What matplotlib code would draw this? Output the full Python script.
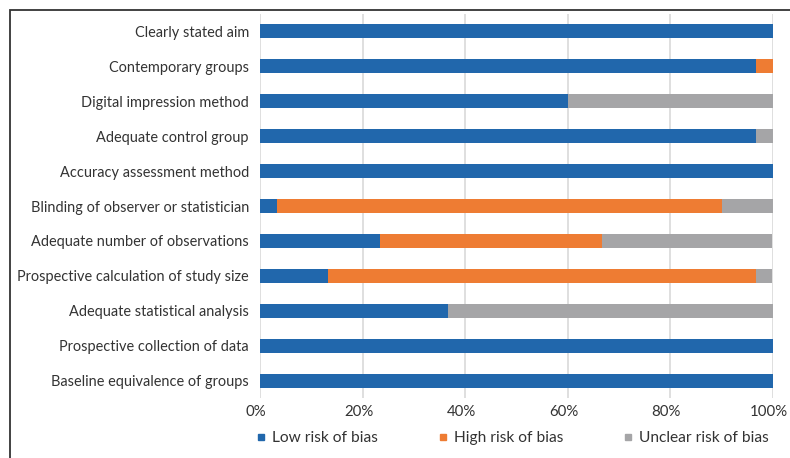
import matplotlib
matplotlib.use("Agg")
import matplotlib.pyplot as plt
import matplotlib.transforms as mtransforms
from matplotlib.lines import Line2D
from matplotlib.patches import Rectangle
import numpy as np

plt.rcParams['font.family'] = ['Lato', 'DejaVu Sans']

categories = [
    "Clearly stated aim",
    "Contemporary groups",
    "Digital impression method",
    "Adequate control group",
    "Accuracy assessment method",
    "Blinding of observer or statistician",
    "Adequate number of observations",
    "Prospective calculation of study size",
    "Adequate statistical analysis",
    "Prospective collection of data",
    "Baseline equivalence of groups",
]
low_risk = [100, 96.7, 60.0, 96.7, 100, 3.3, 23.3, 13.3, 36.7, 100, 100]
high_risk = [0, 3.3, 0, 0, 0, 86.7, 43.3, 83.3, 0, 0, 0]
unclear_risk = [0, 0, 40.0, 3.3, 0, 10.0, 33.3, 3.3, 63.3, 0, 0]
series_names = ["Low risk of bias", "High risk of bias", "Unclear risk of bias"]
tick_values = [0, 20, 40, 60, 80, 100]
tick_labels = ["0%", "20%", "40%", "60%", "80%", "100%"]

colors = ["#2167AC", "#EE7C33", "#A5A5A7"]
text_color = "#333333"

W, H = 790, 458
fig = plt.figure(figsize=(W / 100, H / 100), dpi=100)
ax = fig.add_axes([260 / W, 1 - 398 / H, 513 / W, 384 / H])

y = np.arange(len(categories))
left = np.zeros(len(categories))
for vals, name, col in zip([low_risk, high_risk, unclear_risk], series_names, colors):
    ax.barh(y, vals, left=left, height=0.4, color=col, label=name, zorder=3)
    left = left + np.array(vals)

ax.set_ylim(len(categories) - 0.5, -0.5)
ax.set_xlim(0, 100)
ax.set_yticks(y)
ax.set_yticklabels(categories, fontsize=10.45, color=text_color)
ax.set_xticks(tick_values)
ax.set_xticklabels(tick_labels, fontsize=10.8, color=text_color)
ax.tick_params(axis='both', length=0)
ax.tick_params(axis='y', pad=8)
ax.tick_params(axis='x', pad=5)
# nudge the percentage labels slightly left
shift = mtransforms.ScaledTranslation(-4 / 100, 0, fig.dpi_scale_trans)
for lbl in ax.get_xticklabels():
    lbl.set_transform(lbl.get_transform() + shift)
for s in ax.spines.values():
    s.set_visible(False)
ax.grid(axis='x', color="#D9D9D9", linewidth=1.2, zorder=0)

handles = [Line2D([0], [0], marker='s', linestyle='none', markersize=5,
                  markerfacecolor=c, markeredgecolor=c) for c in colors]
fig.legend(handles, series_names, loc='center', bbox_to_anchor=(511 / W, 1 - 438 / H),
           ncol=3, frameon=False, fontsize=11.2, handletextpad=0.2,
           columnspacing=3.7, labelcolor=text_color, handlelength=1.0)

# open frame around the figure
fig.patches.append(Rectangle((10 / W, -0.1), 1.2, 1 - 10 / H + 0.1,
                             transform=fig.transFigure, fill=False,
                             edgecolor="#333333", linewidth=1.3))

fig.savefig("out.png", dpi=100)
